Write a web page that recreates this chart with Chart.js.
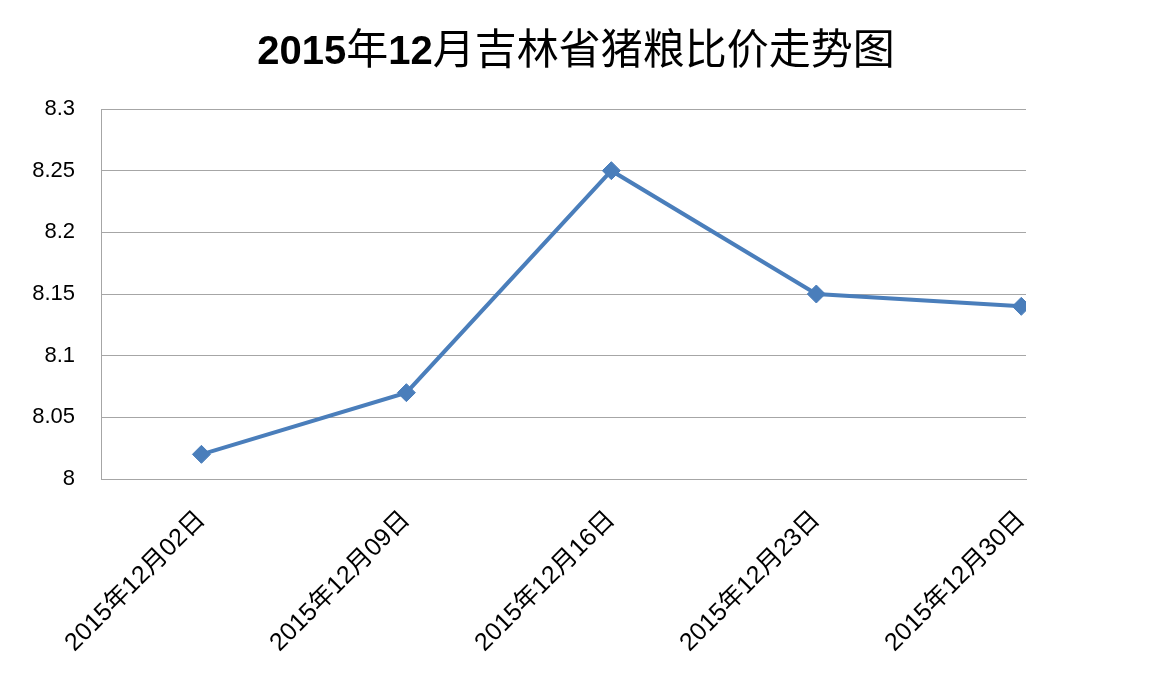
<!DOCTYPE html>
<html>
<head>
<meta charset="utf-8">
<script src="https://cdn.jsdelivr.net/npm/chart.js@4/dist/chart.umd.min.js"></script>
<style>
  html, body { margin: 0; padding: 0; background: #fff; }
  #wrap { width: 1152px; height: 682px; }
</style>
</head>
<body>
<div id="wrap"><canvas id="chart"></canvas></div>
<script>
var titleText = '2015年12月吉林省猪粮比价走势图';
var dateLabels = ['2015年12月02日', '2015年12月09日', '2015年12月16日', '2015年12月23日', '2015年12月30日'];
var ratioValues = [8.02, 8.07, 8.25, 8.15, 8.14];
var yTicks = [8, 8.05, 8.1, 8.15, 8.2, 8.25, 8.3];

var fontFamily = "'Liberation Sans', 'Noto Sans CJK SC', sans-serif";
var lineColor = '#4a7ebb';
var gridColor = '#a6a6a6';

var points = ratioValues.map(function (v, i) { return { x: i, y: v }; });

// title: latin digits bold, CJK glyphs regular (like the original's font fallback)
var titlePlugin = {
	id: 'mixedTitle',
	afterDraw: function (chart) {
		var c = chart.ctx;
		var parts = titleText.match(/[0-9]+|[^0-9]+/g);
		var fonts = parts.map(function (p) {
			return /[0-9]/.test(p) ? "bold 40px 'Liberation Sans'" : "42px 'Noto Sans CJK SC'";
		});
		c.save();
		c.fillStyle = '#000';
		c.textBaseline = 'alphabetic';
		var total = 0;
		var widths = parts.map(function (p, i) {
			c.font = fonts[i];
			var w = c.measureText(p).width;
			total += w;
			return w;
		});
		var x = chart.width / 2 - total / 2;
		parts.forEach(function (p, i) {
			c.font = fonts[i];
			c.fillText(p, x, 64);
			x += widths[i];
		});
		c.restore();
	}
};

var ctx = document.getElementById('chart').getContext('2d');

var chart = new Chart(ctx, {
	type: 'line',
	data: {
		datasets: [{
			label: '猪粮比价',
			data: points,
			borderColor: lineColor,
			backgroundColor: lineColor,
			borderWidth: 4,
			pointStyle: 'rectRot',
			pointRadius: 9,
			pointHoverRadius: 9,
			pointBorderWidth: 1,
			pointBackgroundColor: lineColor,
			pointBorderColor: lineColor,
			tension: 0,
			fill: false
		}]
	},
	options: {
		responsive: true,
		maintainAspectRatio: false,
		animation: false,
		layout: { padding: { left: 0, right: 0, top: 109, bottom: 0 } },
		plugins: {
			legend: { display: false },
			tooltip: { enabled: false },
			title: { display: false }
		},
		scales: {
			x: {
				type: 'linear',
				min: -0.49,
				max: 4.023,
				afterBuildTicks: function (scale) {
					scale.ticks = dateLabels.map(function (_, i) { return { value: i }; });
				},
				afterFit: function (scale) { scale.height = 203; },
				grid: { display: false, drawTicks: false, tickLength: 0 },
				border: { display: true, color: gridColor, width: 1 },
				ticks: {
					autoSkip: false,
					minRotation: 45,
					maxRotation: 45,
					padding: 26,
					color: '#000',
					font: { family: fontFamily, size: 25 },
					callback: function (value) { return dateLabels[value]; }
				}
			},
			y: {
				min: 8,
				max: 8.3,
				afterBuildTicks: function (scale) {
					scale.ticks = yTicks.map(function (v) { return { value: v }; });
				},
				afterFit: function (scale) { scale.width = 101; },
				grid: { color: gridColor, lineWidth: 1, drawTicks: false, tickLength: 0 },
				border: { display: true, color: gridColor, width: 1 },
				ticks: {
					padding: 26,
					color: '#000',
					font: { family: fontFamily, size: 22 },
					callback: function (value) { return String(+value.toFixed(2)); }
				}
			},
			// empty axis that only keeps the right margin free
			yRight: {
				position: 'right',
				min: 8,
				max: 8.3,
				afterFit: function (scale) { scale.width = 126; },
				grid: { display: false },
				border: { display: false },
				ticks: { display: false }
			}
		}
	},
	plugins: [titlePlugin]
});
</script>
</body>
</html>
